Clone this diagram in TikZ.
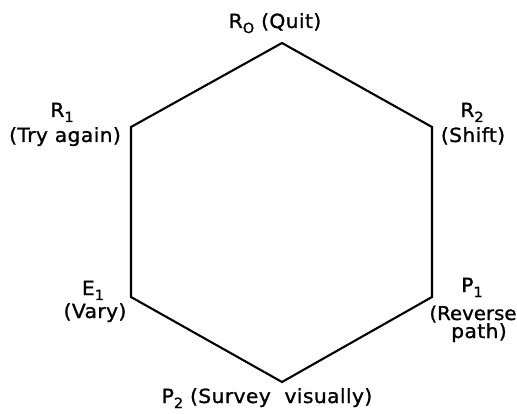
\documentclass[tikz,border=0pt]{standalone}
\usepackage{fontspec}
\setmainfont[FakeStretch=1.04,LetterSpace=2,FakeBold=1.2]{DejaVu Sans}
\newcommand{\sbs}[1]{\raisebox{-5pt}{\fontsize{14}{14}\selectfont #1}}
\begin{document}
\begin{tikzpicture}[x=1pt,y=1pt,
  edge/.style={line width=2.1pt, line join=miter},
  lbl/.style={inner sep=0pt, anchor=base, font=\fontsize{19.5}{22}\selectfont}]
\useasboundingbox (0,0) rectangle (517,413);
% vertices
\coordinate (R0) at (282,370);
\coordinate (R2) at (432,286);
\coordinate (P1) at (432,116);
\coordinate (P2) at (282,31);
\coordinate (E1) at (131,116);
\coordinate (R1) at (131,286);
\draw[edge] (R0) -- (R2) -- (P1) -- (P2) -- (E1) -- (R1) -- cycle;
% labels
\node[lbl] (lR0) at (275,385) {R\sbs{O} (Quit)};
\node[lbl] (lR1a) at (62,296) {R\sbs{1}};
\node[lbl] (lR1b) at (65,271) {(Try again)};
\node[lbl] (lR2a) at (472,296) {R\sbs{2}};
\node[lbl] (lR2b) at (473,271) {(Shift)};
\node[lbl] (lE1a) at (93,118) {E\sbs{1}};
\node[lbl] (lE1b) at (95,95) {(Vary)};
\node[lbl] (lP1a) at (472,121) {P\sbs{1}};
\node[lbl, font=\fontsize{19}{22}\selectfont\addfontfeature{LetterSpace=0}] (lP1b) at (473,93) {(Reverse};
\node[lbl] (lP1c) at (479,75) {path)};
\node[lbl] (lP2) at (267,10) {P\sbs{2} (Survey\ \ visually)};
\end{tikzpicture}
\end{document}
